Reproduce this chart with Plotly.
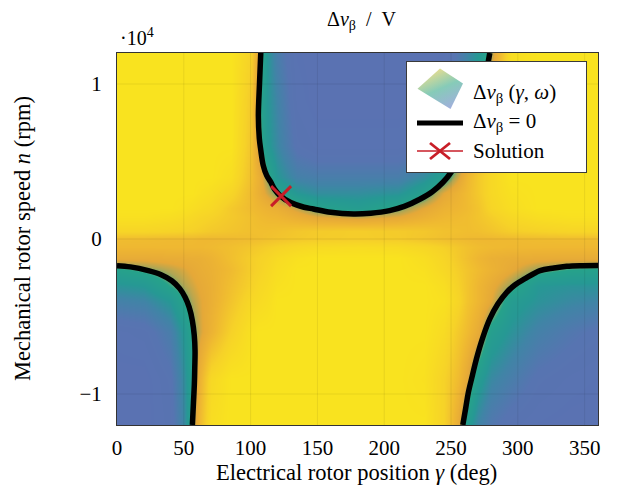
import base64
import plotly.graph_objects as go

# ---------------- data ----------------
# grid nodes of the colour field (electrical angle in deg, speed in rpm)
gamma_nodes = [0, 20, 40, 50, 56, 62, 70, 85, 100, 106, 112, 120, 135, 150, 180,
               210, 230, 245, 255, 262, 270, 280, 295, 315, 340, 360]
speed_nodes = [-12000, -9000, -6000, -4000, -3000, -2000, -1200, -500, 0, 500,
               1400, 2000, 3000, 4000, 6000, 9000, 12000]
# normalised Delta v_beta (clipped to +-1), one row per speed node
dv_rows = [
    [-1, -1, -0.85, -0.45, -0.03, 0.45, 0.9, 1, 1, 1, 1, 1, 1, 1, 1, 1, 1, 0.7, 0.25, -0.2, -0.5, -0.7, -0.85, -0.95, -1, -1],
    [-1, -1, -0.8, -0.4, -0.1, 0.35, 0.8, 1, 1, 1, 1, 1, 1, 1, 1, 1, 0.95, 0.7, 0.45, 0.2, -0.2, -0.45, -0.6, -0.8, -0.9, -0.95],
    [-0.9, -0.85, -0.6, -0.28, -0.05, 0.15, 0.35, 0.7, 0.95, 1, 1, 1, 1, 1, 1, 1, 1, 0.85, 0.6, 0.45, 0.25, -0.15, -0.35, -0.55, -0.7, -0.8],
    [-0.55, -0.5, -0.3, -0.05, 0.08, 0.18, 0.3, 0.55, 0.8, 0.85, 0.9, 1, 1, 1, 1, 1, 1, 0.95, 0.75, 0.55, 0.4, 0.2, -0.2, -0.35, -0.45, -0.5],
    [-0.35, -0.3, -0.05, 0.08, 0.15, 0.22, 0.3, 0.5, 0.7, 0.8, 0.85, 0.95, 1, 1, 1, 1, 1, 0.9, 0.7, 0.55, 0.4, 0.25, 0.03, -0.3, -0.35, -0.35],
    [-0.1, -0.01, 0.1, 0.17, 0.22, 0.27, 0.32, 0.45, 0.65, 0.72, 0.8, 0.9, 1, 1, 1, 1, 0.95, 0.8, 0.65, 0.55, 0.45, 0.35, 0.22, 0.02, -0.07, -0.1],
    [0.25, 0.25, 0.27, 0.28, 0.29, 0.3, 0.35, 0.5, 0.65, 0.7, 0.75, 0.85, 0.95, 1, 1, 1, 0.9, 0.75, 0.6, 0.5, 0.4, 0.32, 0.28, 0.26, 0.25, 0.25],
    [0.42, 0.42, 0.42, 0.42, 0.42, 0.42, 0.44, 0.5, 0.58, 0.62, 0.66, 0.72, 0.8, 0.85, 0.88, 0.85, 0.78, 0.68, 0.58, 0.52, 0.47, 0.44, 0.42, 0.42, 0.42, 0.42],
    [0.47, 0.46, 0.44, 0.44, 0.44, 0.42, 0.42, 0.44, 0.47, 0.49, 0.52, 0.55, 0.6, 0.63, 0.65, 0.63, 0.56, 0.5, 0.46, 0.44, 0.42, 0.42, 0.44, 0.46, 0.47, 0.47],
    [0.75, 0.75, 0.72, 0.7, 0.68, 0.65, 0.6, 0.55, 0.5, 0.5, 0.5, 0.52, 0.58, 0.62, 0.65, 0.62, 0.58, 0.52, 0.5, 0.48, 0.5, 0.55, 0.65, 0.7, 0.75, 0.75],
    [0.95, 0.95, 0.9, 0.85, 0.8, 0.75, 0.7, 0.6, 0.5, 0.45, 0.42, 0.4, 0.3, 0.2, 0.12, 0.2, 0.33, 0.42, 0.45, 0.48, 0.55, 0.65, 0.8, 0.9, 0.95, 0.95],
    [1, 1, 1, 0.95, 0.9, 0.85, 0.8, 0.6, 0.45, 0.4, 0.35, 0.3, 0.12, -0.08, -0.2, -0.02, 0.2, 0.35, 0.4, 0.45, 0.55, 0.75, 0.9, 1, 1, 1],
    [1, 1, 1, 1, 1, 0.95, 0.9, 0.75, 0.45, 0.3, 0.15, -0.02, -0.3, -0.4, -0.4, -0.35, -0.12, 0.2, 0.35, 0.45, 0.6, 0.8, 0.95, 1, 1, 1],
    [1, 1, 1, 1, 1, 1, 1, 0.9, 0.5, 0.3, 0.02, -0.3, -0.55, -0.6, -0.6, -0.6, -0.4, -0.15, 0.15, 0.4, 0.6, 0.8, 1, 1, 1, 1],
    [1, 1, 1, 1, 1, 1, 1, 1, 0.55, 0.07, -0.25, -0.45, -0.8, -0.9, -0.9, -0.9, -0.8, -0.5, -0.25, 0.0, 0.3, 0.6, 1, 1, 1, 1],
    [1, 1, 1, 1, 1, 1, 1, 1, 0.6, 0.0, -0.3, -0.5, -0.9, -1, -1, -1, -0.95, -0.8, -0.55, -0.38, -0.1, 0.4, 1, 1, 1, 1],
    [1, 1, 1, 1, 1, 1, 1, 1, 0.7, 0.15, -0.3, -0.6, -0.95, -1, -1, -1, -1, -0.95, -0.7, -0.5, -0.3, 0.05, 0.9, 1, 1, 1],
]

# zero contour (Delta v_beta = 0), three branches
upper_gamma = [107.6, 106.7, 105.8, 106.5, 107.5, 109.5, 112, 115, 118, 122, 130, 140, 147,
               160, 177, 190, 204, 215, 227, 236, 244, 250, 256, 262, 268, 274, 279]
upper_speed = [12000, 10100, 7950, 6500, 5800, 4730, 4100, 3680, 3200, 2800, 2350, 2050, 1935,
               1720, 1610, 1660, 1830, 2100, 2580, 3050, 3660, 4300, 5200, 6300, 7800, 9700, 12000]
left_gamma = [0, 10, 23.4, 33, 41, 47, 51, 54, 56.4, 57.8, 58.4, 58.2, 57.9, 57.2, 56.4]
left_speed = [-1720, -1800, -2040, -2300, -2690, -3200, -3760, -4400, -5270, -6200, -7200,
              -8300, -9350, -10600, -12000]
right_gamma = [258.8, 261, 263, 266, 269, 274, 279, 285, 291.7, 298, 305, 316.6, 327, 336.6, 348, 360]
right_speed = [-12000, -10900, -9890, -8800, -7740, -6300, -5160, -4200, -3440, -2950, -2580,
               -2040, -1870, -1760, -1720, -1710]

solution_gamma = [122.8]
solution_speed = [2770]

x_ticks = [0, 50, 100, 150, 200, 250, 300, 350]
y_ticks = [-10000, 0, 10000]
y_ticktext = ["\u22121", "0", "1"]

# ---------------- styling ----------------
FONT = "Liberation Serif"
OFF = 8                      # page body margin of the html
FIG_W, FIG_H = 618 - OFF, 492 - OFF
L, R, T, B = 117, 598, 53, 425   # target plot area in window pixels
W, H = R - L, B - T


def px(x):
    return (x - L) / W


def py(y):
    return (B - y) / H


colorscale = [
    [0.00, "rgb(90,114,178)"],
    [0.12, "rgb(87,116,177)"],
    [0.25, "rgb(64,132,166)"],
    [0.35, "rgb(38,152,148)"],
    [0.47, "rgb(38,162,138)"],
    [0.50, "rgb(100,168,115)"],
    [0.54, "rgb(175,166,84)"],
    [0.60, "rgb(229,168,56)"],
    [0.70, "rgb(238,182,50)"],
    [0.85, "rgb(246,210,40)"],
    [1.00, "rgb(249,227,31)"],
]

fig = go.Figure()
fig.add_trace(go.Heatmap(
    x=gamma_nodes, y=speed_nodes, z=dv_rows, zmin=-1, zmax=1,
    colorscale=colorscale, zsmooth="best", showscale=False, hoverinfo="skip"))

# faint grid lines on top of the field
for gx in x_ticks[1:]:
    fig.add_trace(go.Scatter(x=[gx, gx], y=[-12000, 12000], mode="lines",
                             line=dict(color="rgba(0,0,0,0.07)", width=1),
                             hoverinfo="skip", showlegend=False))
for gy in y_ticks:
    fig.add_trace(go.Scatter(x=[0, 360], y=[gy, gy], mode="lines",
                             line=dict(color="rgba(0,0,0,0.07)", width=1),
                             hoverinfo="skip", showlegend=False))

for gx_, gy_ in [(upper_gamma, upper_speed), (left_gamma, left_speed), (right_gamma, right_speed)]:
    fig.add_trace(go.Scatter(x=gx_, y=gy_, mode="lines", line=dict(color="black", width=5.5),
                             line_shape="spline", hoverinfo="skip", showlegend=False))

fig.add_trace(go.Scatter(x=solution_gamma, y=solution_speed, mode="markers",
                         marker=dict(symbol="x-thin", size=20,
                                     line=dict(color="rgb(200,30,40)", width=3)),
                         hoverinfo="skip", showlegend=False))

# legend drawn as an SVG graphic (text added as annotations)
lx0, ly0, lx1, ly1 = 406, 61, 587, 173
lw, lh = lx1 - lx0, ly1 - ly0
svg = f'''<svg xmlns="http://www.w3.org/2000/svg" width="{lw}" height="{lh}" viewBox="0 0 {lw} {lh}">
<defs><linearGradient id="g" x1="0.25" y1="0" x2="0.75" y2="1">
<stop offset="0" stop-color="#f6e08a"/><stop offset="0.5" stop-color="#86cbb8"/>
<stop offset="1" stop-color="#a2aede"/></linearGradient></defs>
<rect x="0.5" y="0.5" width="{lw-1}" height="{lh-1}" fill="white" stroke="#3a3a3a" stroke-width="1"/>
<polygon points="34,7.5 57,22.6 44.5,48 11.5,27.7" fill="url(#g)"/>
<line x1="11" y1="62" x2="57" y2="62" stroke="black" stroke-width="5"/>
<line x1="11" y1="90" x2="57" y2="90" stroke="rgb(200,30,40)" stroke-width="1.6"/>
<line x1="24" y1="82" x2="44" y2="98" stroke="rgb(200,30,40)" stroke-width="2.8"/>
<line x1="24" y1="98" x2="44" y2="82" stroke="rgb(200,30,40)" stroke-width="2.8"/>
</svg>'''
src = "data:image/svg+xml;base64," + base64.b64encode(svg.encode()).decode()
fig.add_layout_image(dict(source=src, xref="paper", yref="paper", x=px(lx0), y=py(ly0),
                          sizex=lw / W, sizey=lh / H, xanchor="left", yanchor="top",
                          sizing="stretch", layer="above"))

legend_texts = ["\u0394<i>v</i><sub>\u03b2</sub> (<i>\u03b3</i>, <i>\u03c9</i>)",
                "\u0394<i>v</i><sub>\u03b2</sub> = 0",
                "Solution"]
legend_y = [93, 122, 151]
for t, yy in zip(legend_texts, legend_y):
    fig.add_annotation(text=t, x=px(471), y=py(yy), xref="paper", yref="paper",
                       xanchor="left", yanchor="middle", showarrow=False,
                       font=dict(family=FONT, size=21, color="black"))

fig.add_annotation(text="\u0394<i>v</i><sub>\u03b2</sub>\u2002/\u2002V", x=px(361), y=py(20),
                   xref="paper", yref="paper", xanchor="center", yanchor="middle",
                   showarrow=False, font=dict(family=FONT, size=20, color="black"))
fig.add_annotation(text="\u00b710<sup>4</sup>", x=px(118), y=py(51), xref="paper", yref="paper",
                   xanchor="left", yanchor="bottom", showarrow=False,
                   font=dict(family=FONT, size=20, color="black"))
fig.add_annotation(text="Electrical rotor position <i>\u03b3</i> (deg)", x=px(356), y=py(472),
                   xref="paper", yref="paper", xanchor="center", yanchor="middle",
                   showarrow=False, font=dict(family=FONT, size=22.5, color="black"))
fig.add_annotation(text="Mechanical rotor speed <i>n</i> (rpm)", x=px(22), y=py(239),
                   xref="paper", yref="paper", xanchor="center", yanchor="middle",
                   textangle=-90, showarrow=False, font=dict(family=FONT, size=22.5, color="black"))

fig.update_layout(
    width=FIG_W, height=FIG_H,
    margin=dict(l=L - OFF, r=FIG_W - (R - OFF), t=T - OFF, b=FIG_H - (B - OFF)),
    paper_bgcolor="white", plot_bgcolor="white",
    font=dict(family=FONT, size=21, color="black"),
    showlegend=False,
    xaxis=dict(range=[0, 360], tickvals=x_ticks, showgrid=False, zeroline=False,
               showline=True, mirror=True, linecolor="#333", linewidth=1, ticks="",
               ticklabelstandoff=4),
    yaxis=dict(range=[-12000, 12000], tickvals=y_ticks, ticktext=y_ticktext, showgrid=False,
               zeroline=False, showline=True, mirror=True, linecolor="#333", linewidth=1,
               ticks="", ticklabelstandoff=10),
)

fig.write_html("out.html")
